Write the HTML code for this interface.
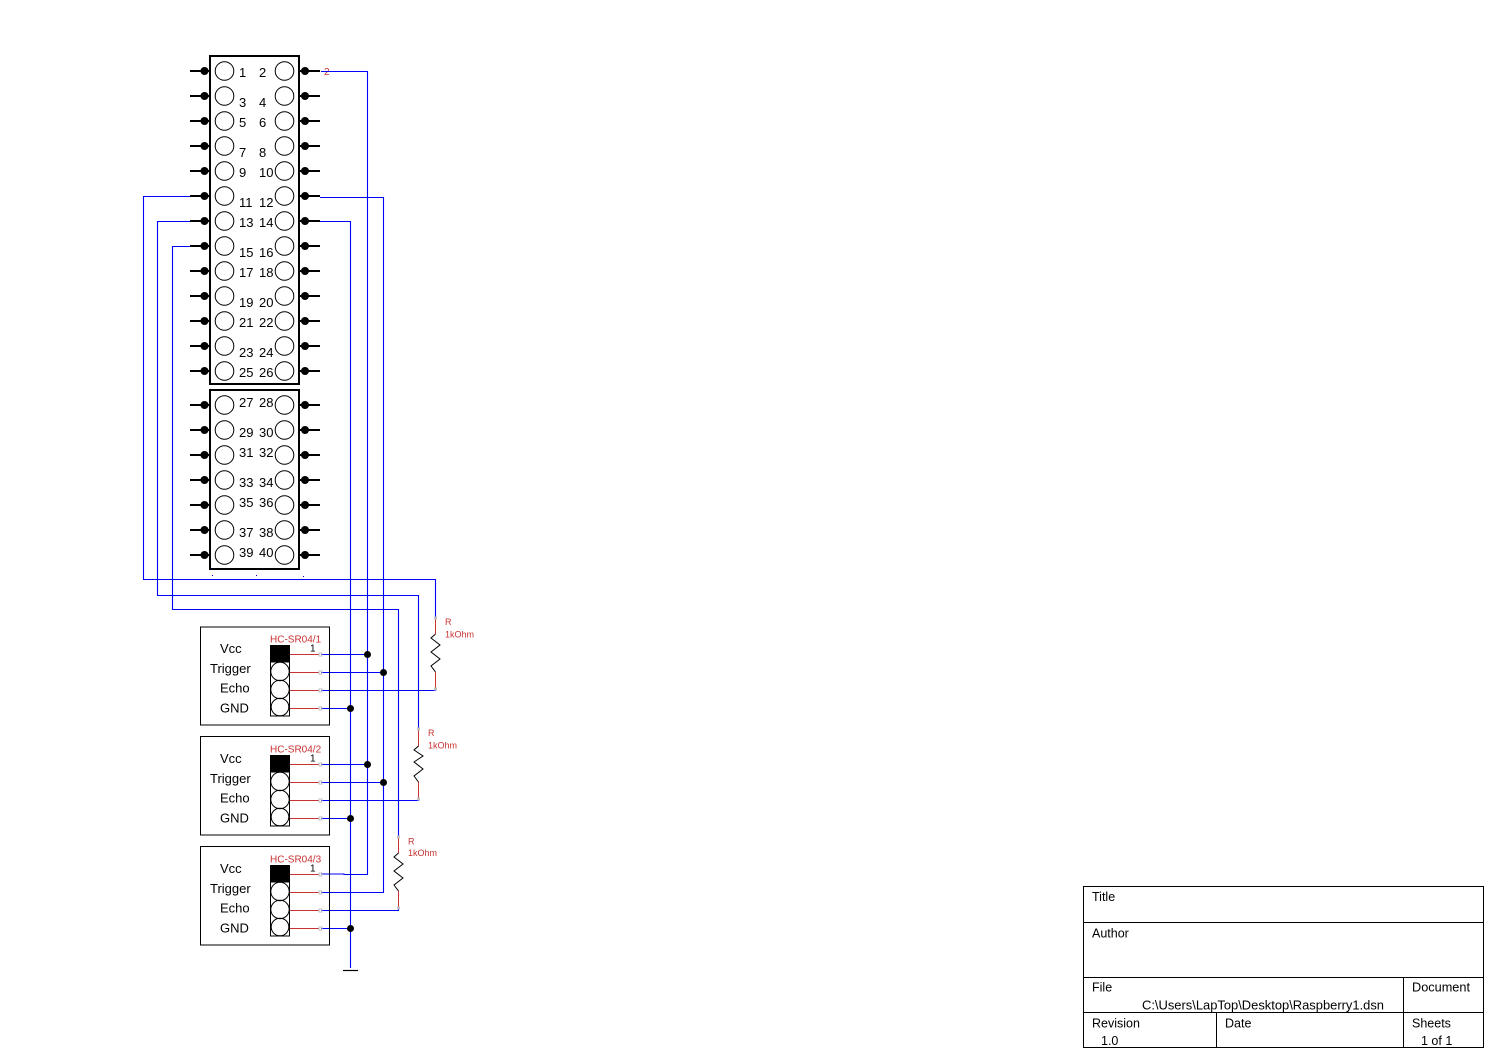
<!DOCTYPE html>
<html>
<head>
<meta charset="utf-8">
<style>
html,body{margin:0;padding:0;background:#fff;}
svg{display:block;}
text{font-family:"Liberation Sans",Arial,sans-serif;}
</style>
</head>
<body>
<svg width="1495" height="1060" viewBox="0 0 1495 1060" xmlns="http://www.w3.org/2000/svg">
<rect x="0" y="0" width="1495" height="1060" fill="#fff"/>

<!-- ===== Header boxes ===== -->
<rect x="210" y="56" width="89" height="328" fill="none" stroke="#000" stroke-width="2"/>
<rect x="210" y="390" width="89" height="179" fill="none" stroke="#000" stroke-width="2"/>

<!-- pin stubs, dots, circles -->
<g stroke="#000" stroke-width="2">
  <path d="M190 71H210M190 96H210M190 121H210M190 146H210M190 171H210M190 196H210M190 221H210M190 246H210M190 271H210M190 296H210M190 321H210M190 346H210M190 371H210M190 405H210M190 430H210M190 455H210M190 480H210M190 505H210M190 530H210M190 555H210"/>
  <path d="M299 71H320M299 96H320M299 121H320M299 146H320M299 171H320M299 196H320M299 221H320M299 246H320M299 271H320M299 296H320M299 321H320M299 346H320M299 371H320M299 405H320M299 430H320M299 455H320M299 480H320M299 505H320M299 530H320M299 555H320"/>
</g>
<g fill="#000">
  <circle cx="204.5" cy="71" r="4"/><circle cx="204.5" cy="96" r="4"/><circle cx="204.5" cy="121" r="4"/><circle cx="204.5" cy="146" r="4"/><circle cx="204.5" cy="171" r="4"/><circle cx="204.5" cy="196" r="4"/><circle cx="204.5" cy="221" r="4"/><circle cx="204.5" cy="246" r="4"/><circle cx="204.5" cy="271" r="4"/><circle cx="204.5" cy="296" r="4"/><circle cx="204.5" cy="321" r="4"/><circle cx="204.5" cy="346" r="4"/><circle cx="204.5" cy="371" r="4"/>
  <circle cx="204.5" cy="405" r="4"/><circle cx="204.5" cy="430" r="4"/><circle cx="204.5" cy="455" r="4"/><circle cx="204.5" cy="480" r="4"/><circle cx="204.5" cy="505" r="4"/><circle cx="204.5" cy="530" r="4"/><circle cx="204.5" cy="555" r="4"/>
  <circle cx="305" cy="71" r="4"/><circle cx="305" cy="96" r="4"/><circle cx="305" cy="121" r="4"/><circle cx="305" cy="146" r="4"/><circle cx="305" cy="171" r="4"/><circle cx="305" cy="196" r="4"/><circle cx="305" cy="221" r="4"/><circle cx="305" cy="246" r="4"/><circle cx="305" cy="271" r="4"/><circle cx="305" cy="296" r="4"/><circle cx="305" cy="321" r="4"/><circle cx="305" cy="346" r="4"/><circle cx="305" cy="371" r="4"/>
  <circle cx="305" cy="405" r="4"/><circle cx="305" cy="430" r="4"/><circle cx="305" cy="455" r="4"/><circle cx="305" cy="480" r="4"/><circle cx="305" cy="505" r="4"/><circle cx="305" cy="530" r="4"/><circle cx="305" cy="555" r="4"/>
</g>
<g fill="none" stroke="#000" stroke-width="1">
  <circle cx="224.5" cy="71" r="9.3"/><circle cx="224.5" cy="96" r="9.3"/><circle cx="224.5" cy="121" r="9.3"/><circle cx="224.5" cy="146" r="9.3"/><circle cx="224.5" cy="171" r="9.3"/><circle cx="224.5" cy="196" r="9.3"/><circle cx="224.5" cy="221" r="9.3"/><circle cx="224.5" cy="246" r="9.3"/><circle cx="224.5" cy="271" r="9.3"/><circle cx="224.5" cy="296" r="9.3"/><circle cx="224.5" cy="321" r="9.3"/><circle cx="224.5" cy="346" r="9.3"/><circle cx="224.5" cy="371" r="9.3"/>
  <circle cx="224.5" cy="405" r="9.3"/><circle cx="224.5" cy="430" r="9.3"/><circle cx="224.5" cy="455" r="9.3"/><circle cx="224.5" cy="480" r="9.3"/><circle cx="224.5" cy="505" r="9.3"/><circle cx="224.5" cy="530" r="9.3"/><circle cx="224.5" cy="555" r="9.3"/>
  <circle cx="284.5" cy="71" r="9.3"/><circle cx="284.5" cy="96" r="9.3"/><circle cx="284.5" cy="121" r="9.3"/><circle cx="284.5" cy="146" r="9.3"/><circle cx="284.5" cy="171" r="9.3"/><circle cx="284.5" cy="196" r="9.3"/><circle cx="284.5" cy="221" r="9.3"/><circle cx="284.5" cy="246" r="9.3"/><circle cx="284.5" cy="271" r="9.3"/><circle cx="284.5" cy="296" r="9.3"/><circle cx="284.5" cy="321" r="9.3"/><circle cx="284.5" cy="346" r="9.3"/><circle cx="284.5" cy="371" r="9.3"/>
  <circle cx="284.5" cy="405" r="9.3"/><circle cx="284.5" cy="430" r="9.3"/><circle cx="284.5" cy="455" r="9.3"/><circle cx="284.5" cy="480" r="9.3"/><circle cx="284.5" cy="505" r="9.3"/><circle cx="284.5" cy="530" r="9.3"/><circle cx="284.5" cy="555" r="9.3"/>
</g>

<!-- pin numbers -->
<g font-size="13" fill="#000">
  <text x="239" y="77">1</text><text x="259" y="77">2</text>
  <text x="239" y="107">3</text><text x="259" y="107">4</text>
  <text x="239" y="127">5</text><text x="259" y="127">6</text>
  <text x="239" y="157">7</text><text x="259" y="157">8</text>
  <text x="239" y="177">9</text><text x="259" y="177">10</text>
  <text x="239" y="207">11</text><text x="259" y="207">12</text>
  <text x="239" y="227">13</text><text x="259" y="227">14</text>
  <text x="239" y="257">15</text><text x="259" y="257">16</text>
  <text x="239" y="277">17</text><text x="259" y="277">18</text>
  <text x="239" y="307">19</text><text x="259" y="307">20</text>
  <text x="239" y="327">21</text><text x="259" y="327">22</text>
  <text x="239" y="357">23</text><text x="259" y="357">24</text>
  <text x="239" y="377">25</text><text x="259" y="377">26</text>
  <text x="239" y="407">27</text><text x="259" y="407">28</text>
  <text x="239" y="437">29</text><text x="259" y="437">30</text>
  <text x="239" y="457">31</text><text x="259" y="457">32</text>
  <text x="239" y="487">33</text><text x="259" y="487">34</text>
  <text x="239" y="507">35</text><text x="259" y="507">36</text>
  <text x="239" y="537">37</text><text x="259" y="537">38</text>
  <text x="239" y="557">39</text><text x="259" y="557">40</text>
</g>
<text x="324" y="75" font-size="10" fill="#c83232">2</text>

<!-- tiny blue specks under header -->
<g fill="#0000ff">
  <rect x="212" y="575" width="1" height="1"/><rect x="256" y="575" width="1" height="1"/><rect x="303" y="576" width="1" height="1"/>
</g>

<!-- ===== Blue wires ===== -->
<g fill="none" stroke="#0000ff" stroke-width="1.1">
  <path d="M321 71.5H367.5V874.5H344V874H321"/>
  <path d="M320 197.5H383.5V892.5H321"/>
  <path d="M320 221.5H350.5V968"/>
  <path d="M190 196.5H143.5V579.5H435.5V618"/>
  <path d="M190 221.5H157.5V595.5H418.5V729"/>
  <path d="M190 246.5H172.5V609.5H398.5V837"/>
  <path d="M321 654.5H367.5M321 672.5H383.5M321 690.5H435.5V689M321 708.5H350.5"/>
  <path d="M321 764.5H367.5M321 782.5H383.5M321 800.5H418.5V799M321 818.5H350.5"/>
  <path d="M321 910.5H398.5V909M321 928.5H350.5"/>
</g>
<path d="M343 970.5H358" stroke="#000" stroke-width="1.2"/>

<!-- junctions -->
<g fill="#000">
  <circle cx="367.5" cy="654.5" r="3.5"/><circle cx="383.5" cy="672.5" r="3.5"/><circle cx="350.5" cy="708.5" r="3.5"/>
  <circle cx="367.5" cy="764.5" r="3.5"/><circle cx="383.5" cy="782.5" r="3.5"/><circle cx="350.5" cy="818.5" r="3.5"/>
  <circle cx="350.5" cy="928.5" r="3.5"/>
</g>

<!-- ===== Resistors ===== -->
<g fill="none" stroke="#c83232" stroke-width="1">
  <path d="M435.5 619V634M435.5 672V688"/>
  <path d="M418.5 730V746M418.5 782V799"/>
  <path d="M398.5 838V853M398.5 891V908"/>
</g>
<g fill="none" stroke="#000" stroke-width="1">
  <path d="M435.5 634L431 638L440 645L431 652L440 659L431 666L435.5 672"/>
  <path d="M418.5 746L414 750L423 756L414 762L423 769L414 776L418.5 782"/>
  <path d="M398.5 853L394 857L403 864L394 871L403 878L394 885L398.5 891"/>
</g>
<g fill="#c0c0c0">
  <rect x="434" y="616.5" width="3" height="3"/><rect x="434" y="687.5" width="3" height="3"/>
  <rect x="417" y="727.5" width="3" height="3"/><rect x="417" y="797.5" width="3" height="3"/>
  <rect x="397" y="835.5" width="3" height="3"/><rect x="397" y="906.5" width="3" height="3"/>
</g>
<g font-size="9" fill="#c83232">
  <text x="445" y="625">R</text><text x="445" y="637.5">1kOhm</text>
  <text x="428" y="736">R</text><text x="428" y="748.5">1kOhm</text>
  <text x="408" y="844.5">R</text><text x="408" y="856">1kOhm</text>
</g>

<!-- ===== Sensor modules ===== -->
<g>
  <rect x="200.5" y="627" width="129" height="98" fill="none" stroke="#000" stroke-width="1"/>
  <g font-size="13" fill="#000">
    <text x="220" y="653">Vcc</text><text x="210" y="673">Trigger</text><text x="220" y="692.5">Echo</text><text x="220" y="712.5">GND</text>
  </g>
  <text x="270" y="642.5" font-size="10" fill="#c83232">HC-SR04/1</text>
  <text x="310" y="651.5" font-size="10" fill="#000">1</text>
  <rect x="270.5" y="645.5" width="19" height="70.5" fill="#fff" stroke="#000" stroke-width="1"/>
  <rect x="270.5" y="645.5" width="19" height="17" fill="#000"/>
  <circle cx="280" cy="671.5" r="9.2" fill="none" stroke="#000"/>
  <circle cx="280" cy="689.5" r="9.2" fill="none" stroke="#000"/>
  <circle cx="280" cy="707" r="8.8" fill="none" stroke="#000"/>
  <path d="M290 654.5H319M290 672.5H319M290 690.5H319M290 708.5H319" stroke="#c83232" stroke-width="1"/>
  <g fill="none" stroke="#c0c0c0" stroke-width="1"><rect x="319" y="653" width="3" height="3"/><rect x="319" y="671" width="3" height="3"/><rect x="319" y="689" width="3" height="3"/><rect x="319" y="707" width="3" height="3"/></g>
</g>
<g>
  <rect x="200.5" y="736.5" width="129" height="98.5" fill="none" stroke="#000" stroke-width="1"/>
  <g font-size="13" fill="#000">
    <text x="220" y="763">Vcc</text><text x="210" y="783">Trigger</text><text x="220" y="802.5">Echo</text><text x="220" y="822.5">GND</text>
  </g>
  <text x="270" y="752.5" font-size="10" fill="#c83232">HC-SR04/2</text>
  <text x="310" y="761.5" font-size="10" fill="#000">1</text>
  <rect x="270.5" y="755.5" width="19" height="70.5" fill="#fff" stroke="#000" stroke-width="1"/>
  <rect x="270.5" y="755.5" width="19" height="17" fill="#000"/>
  <circle cx="280" cy="781.5" r="9.2" fill="none" stroke="#000"/>
  <circle cx="280" cy="799.5" r="9.2" fill="none" stroke="#000"/>
  <circle cx="280" cy="817" r="8.8" fill="none" stroke="#000"/>
  <path d="M290 764.5H319M290 782.5H319M290 800.5H319M290 818.5H319" stroke="#c83232" stroke-width="1"/>
  <g fill="none" stroke="#c0c0c0" stroke-width="1"><rect x="319" y="763" width="3" height="3"/><rect x="319" y="781" width="3" height="3"/><rect x="319" y="799" width="3" height="3"/><rect x="319" y="817" width="3" height="3"/></g>
</g>
<g>
  <rect x="200.5" y="846.5" width="129" height="98.5" fill="none" stroke="#000" stroke-width="1"/>
  <g font-size="13" fill="#000">
    <text x="220" y="873">Vcc</text><text x="210" y="893">Trigger</text><text x="220" y="912.5">Echo</text><text x="220" y="932.5">GND</text>
  </g>
  <text x="270" y="862.5" font-size="10" fill="#c83232">HC-SR04/3</text>
  <text x="310" y="871.5" font-size="10" fill="#000">1</text>
  <rect x="270.5" y="865.5" width="19" height="70.5" fill="#fff" stroke="#000" stroke-width="1"/>
  <rect x="270.5" y="865.5" width="19" height="17" fill="#000"/>
  <circle cx="280" cy="891.5" r="9.2" fill="none" stroke="#000"/>
  <circle cx="280" cy="909.5" r="9.2" fill="none" stroke="#000"/>
  <circle cx="280" cy="927" r="8.8" fill="none" stroke="#000"/>
  <path d="M290 874.5H319M290 892.5H319M290 910.5H319M290 928.5H319" stroke="#c83232" stroke-width="1"/>
  <g fill="none" stroke="#c0c0c0" stroke-width="1"><rect x="319" y="873" width="3" height="3"/><rect x="319" y="891" width="3" height="3"/><rect x="319" y="909" width="3" height="3"/><rect x="319" y="927" width="3" height="3"/></g>
</g>

<!-- ===== Title block ===== -->
<g fill="none" stroke="#000" stroke-width="1">
  <rect x="1083.5" y="886.5" width="400" height="161"/>
  <path d="M1083.5 922.5H1483.5M1083.5 977.5H1483.5M1083.5 1012.5H1483.5M1403.5 977.5V1047.5M1216.5 1012.5V1047.5"/>
</g>
<g font-size="12.5" fill="#000">
  <text x="1092" y="901">Title</text>
  <text x="1092" y="937.5">Author</text>
  <text x="1092" y="991.5">File</text>
  <text x="1142" y="1009.5" textLength="242" lengthAdjust="spacingAndGlyphs">C:\Users\LapTop\Desktop\Raspberry1.dsn</text>
  <text x="1412" y="991.5" textLength="58" lengthAdjust="spacingAndGlyphs">Document</text>
  <text x="1092" y="1027.5">Revision</text>
  <text x="1101" y="1045">1.0</text>
  <text x="1225" y="1027.5">Date</text>
  <text x="1412" y="1027.5">Sheets</text>
  <text x="1421" y="1045">1 of 1</text>
</g>
</svg>
</body>
</html>
